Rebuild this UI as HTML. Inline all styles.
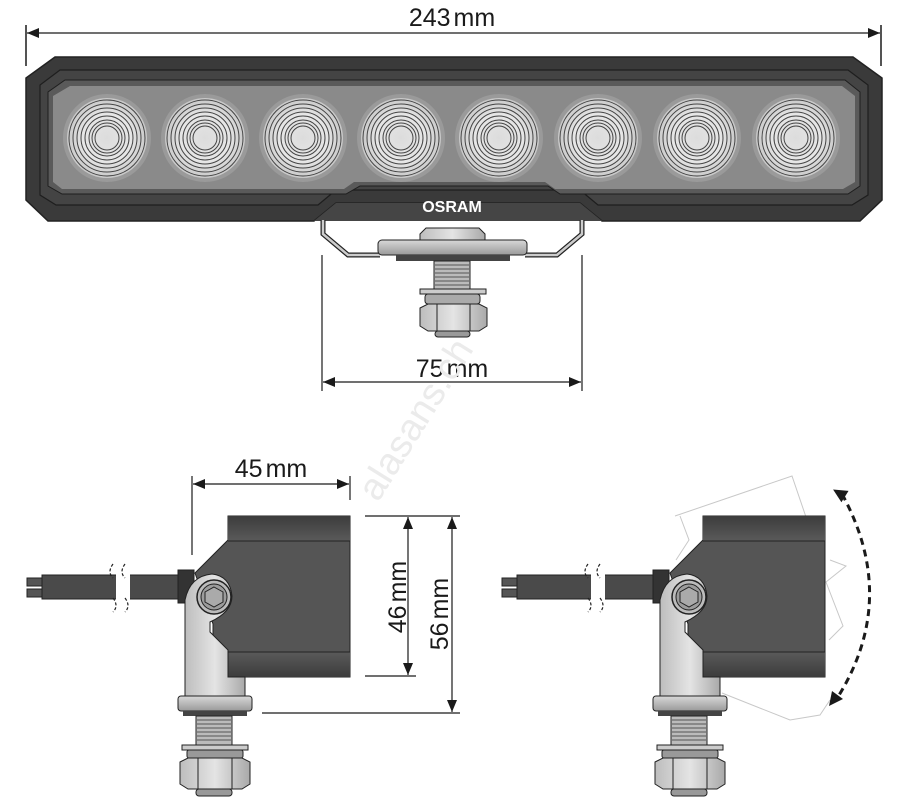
<!DOCTYPE html>
<html><head><meta charset="utf-8"><style>
html,body{margin:0;padding:0;background:#fff;}
svg{display:block;}
text{font-family:"Liberation Sans",Arial,sans-serif;fill:#1a1a1a;}
</style></head><body>
<svg width="916" height="811" viewBox="0 0 916 811" xmlns="http://www.w3.org/2000/svg">
<defs>
<radialGradient id="lens" cx="0.5" cy="0.5" r="0.5">
<stop offset="0" stop-color="#dcdcdc"/><stop offset="0.6" stop-color="#e6e6e6"/><stop offset="1" stop-color="#c8c8c8"/>
</radialGradient>
<linearGradient id="metal" x1="0" x2="1" y1="0" y2="0">
<stop offset="0" stop-color="#bdbdbd"/><stop offset="0.5" stop-color="#e4e4e4"/><stop offset="1" stop-color="#a9a9a9"/>
</linearGradient>
<linearGradient id="metalv" x1="0" x2="0" y1="0" y2="1">
<stop offset="0" stop-color="#d8d8d8"/><stop offset="1" stop-color="#9a9a9a"/>
</linearGradient>
<linearGradient id="band" x1="0" x2="0" y1="0" y2="1">
<stop offset="0" stop-color="#3c3c3c"/><stop offset="1" stop-color="#5a5a5a"/>
</linearGradient>
<linearGradient id="band2" x1="0" x2="0" y1="0" y2="1">
<stop offset="0" stop-color="#5a5a5a"/><stop offset="1" stop-color="#3c3c3c"/>
</linearGradient>
<marker id="ar" markerWidth="12" markerHeight="10" refX="12" refY="5" orient="auto-start-reverse" markerUnits="userSpaceOnUse">
<path d="M0,0 L12,5 L0,10 Z" fill="#1a1a1a"/>
</marker>
<g id="lensg">
<circle r="44" fill="#9a9a9a"/>
<circle r="40" fill="url(#lens)"/>
<g fill="none" stroke="#444" stroke-width="1">
<circle r="12"/><circle r="15"/><circle r="18"/><circle r="22"/><circle r="26"/><circle r="30"/><circle r="34"/><circle r="38"/>
</g>
</g>
<g id="side">
<rect x="27" y="578" width="16" height="8" fill="#555" stroke="#222" stroke-width="1"/>
<rect x="27" y="589" width="16" height="8" fill="#555" stroke="#222" stroke-width="1"/>
<rect x="42" y="575" width="140" height="24" fill="#4a4a4a" stroke="#222" stroke-width="1"/>
<rect x="116" y="570" width="14" height="34" fill="#fff"/>
<path d="M113,564 q-6,8 0,14 M125,564 q-6,8 0,14 M113,598 q6,8 0,14 M125,598 q6,8 0,14" fill="none" stroke="#222" stroke-width="1.2" stroke-dasharray="3,2"/>
<rect x="178" y="570" width="16" height="33" fill="#333" stroke="#222"/>
<path d="M228,516 L350,516 L350,677 L228,677 L228,652 L213,637 L213,624 L195,573 L228,540 Z" fill="#555" stroke="#222" stroke-width="1"/>
<rect x="228" y="516" width="122" height="25" fill="url(#band)"/>
<rect x="228" y="652" width="122" height="25" fill="url(#band2)"/>
<line x1="228" y1="541" x2="350" y2="541" stroke="#222"/>
<line x1="228" y1="652" x2="350" y2="652" stroke="#222"/>
<path d="M185,600 L185,697 L245,697 L245,677 L228,677 L228,650 L210,632 L210,622 Q232,612 232,596 Q230,576 212,574 Q190,576 185,600 Z" fill="url(#metal)" stroke="#222" stroke-width="1"/>
<circle cx="214" cy="597" r="17" fill="#bbb" stroke="#222" stroke-width="1.5"/>
<circle cx="214" cy="597" r="13" fill="#9c9c9c" stroke="#222"/>
<path d="M214,587 L223,592 L223,602 L214,607 L205,602 L205,592 Z" fill="#aaa" stroke="#222"/>
<rect x="178" y="696" width="74" height="15" rx="3" fill="url(#metalv)" stroke="#222"/>
<rect x="183" y="711" width="64" height="5" fill="#444"/>
<rect x="196" y="716" width="36" height="29" fill="#bbb" stroke="#222"/>
<path d="M197,720h34M197,724h34M197,728h34M197,732h34M197,736h34M197,740h34" stroke="#555"/>
<rect x="182" y="745" width="66" height="5" fill="#ccc" stroke="#222"/>
<rect x="187" y="750" width="56" height="8" rx="2" fill="#999" stroke="#222"/>
<path d="M180,762 L188,758 L242,758 L250,762 L250,784 L242,789 L188,789 L180,784 Z" fill="url(#metal)" stroke="#222"/>
<line x1="198" y1="758" x2="198" y2="789" stroke="#222"/><line x1="232" y1="758" x2="232" y2="789" stroke="#222"/>
<rect x="196" y="789" width="36" height="7" rx="3" fill="#999" stroke="#222"/>
</g>
</defs>

<line x1="26" y1="25" x2="26" y2="66" stroke="#1a1a1a" stroke-width="1.5"/>
<line x1="881" y1="25" x2="881" y2="66" stroke="#1a1a1a" stroke-width="1.5"/>
<line x1="27" y1="33" x2="880" y2="33" stroke="#1a1a1a" stroke-width="1.2" marker-start="url(#ar)" marker-end="url(#ar)"/>
<text x="452" y="26" font-size="25" text-anchor="middle">243<tspan dx="3">mm</tspan></text>

<path d="M55,57 L853,57 L882,78 L882,200 L860,221 L602,221 L580,203 L336,203 L314,221 L48,221 L26,200 L26,78 Z" fill="#3a3a3a" stroke="#222" stroke-width="1.5"/>
<path d="M60,70 L848,70 L868,85 L868,195 L852,205 L598,205 L580,190 L336,190 L318,205 L56,205 L40,195 L40,85 Z" fill="#444" stroke="#1e1e1e" stroke-width="1.2"/>
<path d="M65,80 L845,80 L860,92 L860,186 L848,194 L560,194 L548,186 L360,186 L346,194 L62,194 L48,186 L48,92 Z" fill="#5a5a5a" stroke="#1e1e1e" stroke-width="1"/>
<path d="M70,86 L842,86 L855,96 L855,182 L843,189 L555,189 L545,182 L354,182 L344,189 L62,189 L53,182 L53,96 Z" fill="#8a8a8a"/>
<use href="#lensg" x="107" y="138"/>
<use href="#lensg" x="205" y="138"/>
<use href="#lensg" x="303" y="138"/>
<use href="#lensg" x="401" y="138"/>
<use href="#lensg" x="499" y="138"/>
<use href="#lensg" x="598" y="138"/>
<use href="#lensg" x="697" y="138"/>
<use href="#lensg" x="796" y="138"/>
<path d="M336,203 L580,203 L602,221 L314,221 Z" fill="#454545"/>
<text x="452" y="212" font-size="16" font-weight="bold" text-anchor="middle" style="fill:#fff">OSRAM</text>

<path d="M323,220 L323,234 L348,255 L380,255 M582,220 L582,234 L557,255 L525,255" fill="none" stroke="#222" stroke-width="5"/>
<path d="M323,220 L323,234 L348,255 L380,255 M582,220 L582,234 L557,255 L525,255" fill="none" stroke="#ccc" stroke-width="2.5"/>
<path d="M420,234 L426,228 L479,228 L485,234 L485,242 L420,242 Z" fill="url(#metal)" stroke="#222"/>
<rect x="378" y="240" width="149" height="15" rx="4" fill="url(#metalv)" stroke="#222"/>
<rect x="396" y="255" width="114" height="6" fill="#444"/>
<rect x="434" y="261" width="36" height="28" fill="#bbb" stroke="#222"/>
<path d="M435,265h34M435,269h34M435,273h34M435,277h34M435,281h34M435,285h34" stroke="#555"/>
<rect x="420" y="289" width="66" height="5" fill="#ccc" stroke="#222"/>
<rect x="425" y="294" width="55" height="10" rx="3" fill="#aaa" stroke="#222"/>
<path d="M420,308 L428,304 L479,304 L487,308 L487,326 L479,331 L428,331 L420,326 Z" fill="url(#metal)" stroke="#222"/>
<line x1="437" y1="304" x2="437" y2="331" stroke="#222"/><line x1="470" y1="304" x2="470" y2="331" stroke="#222"/>
<rect x="435" y="331" width="35" height="6" rx="3" fill="#999" stroke="#222"/>

<line x1="322" y1="255" x2="322" y2="391" stroke="#1a1a1a" stroke-width="1.2"/>
<line x1="582" y1="255" x2="582" y2="391" stroke="#1a1a1a" stroke-width="1.2"/>
<line x1="323" y1="382" x2="581" y2="382" stroke="#1a1a1a" stroke-width="1.2" marker-start="url(#ar)" marker-end="url(#ar)"/>
<text x="452" y="377" font-size="25" text-anchor="middle">75<tspan dx="3">mm</tspan></text>

<text x="0" y="0" font-size="38" transform="translate(378,503) rotate(-58)" style="fill:#ebebeb">alasans.ch</text>

<use href="#side"/>
<line x1="192" y1="476" x2="192" y2="555" stroke="#1a1a1a" stroke-width="1.2"/>
<line x1="350" y1="476" x2="350" y2="500" stroke="#1a1a1a" stroke-width="1.2"/>
<line x1="193" y1="484" x2="349" y2="484" stroke="#1a1a1a" stroke-width="1.2" marker-start="url(#ar)" marker-end="url(#ar)"/>
<text x="271" y="477" font-size="25" text-anchor="middle">45<tspan dx="3">mm</tspan></text>
<line x1="365" y1="516" x2="416" y2="516" stroke="#1a1a1a" stroke-width="1.2"/>
<line x1="365" y1="676" x2="416" y2="676" stroke="#1a1a1a" stroke-width="1.2"/>
<line x1="408" y1="517" x2="408" y2="675" stroke="#1a1a1a" stroke-width="1.2" marker-start="url(#ar)" marker-end="url(#ar)"/>
<line x1="416" y1="516" x2="460" y2="516" stroke="#1a1a1a" stroke-width="1.2"/>
<line x1="262" y1="713" x2="460" y2="713" stroke="#1a1a1a" stroke-width="1.2"/>
<line x1="452" y1="517" x2="452" y2="712" stroke="#1a1a1a" stroke-width="1.2" marker-start="url(#ar)" marker-end="url(#ar)"/>
<text transform="translate(406,597) rotate(-90)" font-size="25" text-anchor="middle">46<tspan dx="3">mm</tspan></text>
<text transform="translate(448,614) rotate(-90)" font-size="25" text-anchor="middle">56<tspan dx="3">mm</tspan></text>

<g fill="none" stroke="#c8c8c8" stroke-width="1">
<path d="M675,516 L792,476 L807,520 M680,516 L689,540 L676,560"/>
<path d="M830,560 L846,566 L826,582 L843,626 L829,640 M830,700 L820,715 L790,720 L722,693"/>
</g>
<use href="#side" x="475"/>
<path d="M842,494 Q900,600 836,700" fill="none" stroke="#1a1a1a" stroke-width="3" stroke-dasharray="7,5"/>
<path d="M834,488 L849,492 L840,502 Z" fill="#1a1a1a" transform="rotate(-10 842 494)"/>
<path d="M829,706 L832,691 L843,699 Z" fill="#1a1a1a"/>
</svg>
</body></html>
